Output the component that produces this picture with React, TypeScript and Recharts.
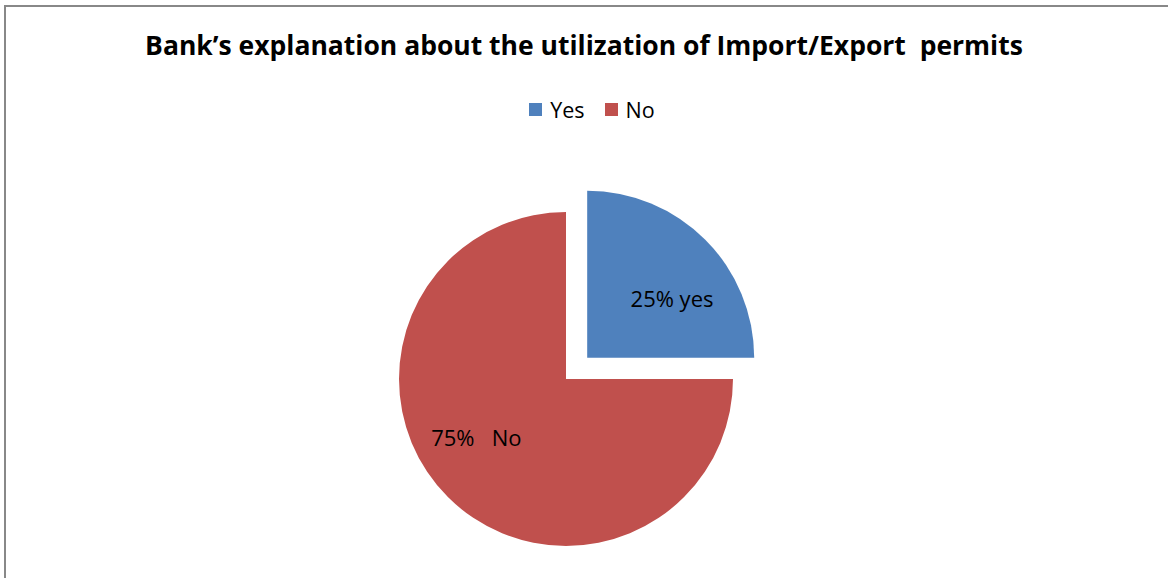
import * as React from 'react';
import { PieChart, Pie, Cell } from 'recharts';

const categories = ['Yes', 'No'];
const shares = [25, 75];
const sliceLabels = ['25% yes', '75%   No'];
const colors = ['#4F81BD', '#C0504D'];

const data = categories.map((name, i) => ({ name, value: shares[i] }));

// where each label sits inside its slice (degrees, fraction of radius)
const labelAngle = [35, 213];
const labelRadius = [0.62, 0.64];

const W = 1168;
const H = 578;
const R = 167;
const CX = 566;
const CY = 379;
const EXPLODE = 30; // pull-out distance of the Yes slice

const FONT = '"Open Sans", Lato, sans-serif';

const renderLabel = (which: number) => (props: any) => {
	const { cx, cy, outerRadius, index } = props;
	if (index !== which) return null;
	const a = (labelAngle[index] * Math.PI) / 180;
	const r = outerRadius * labelRadius[index];
	return (
		<text
			x={cx + r * Math.cos(a)}
			y={cy - r * Math.sin(a)}
			textAnchor="middle"
			dominantBaseline="central"
			fill="#000"
			fontSize={22}
			fontFamily={FONT}
			style={{ whiteSpace: 'pre' }}
		>
			{sliceLabels[index]}
		</text>
	);
};

export default function App() {
	const mid = ((90 + 90 - 360 * (shares[0] / 100)) / 2) * (Math.PI / 180);
	const dx = EXPLODE * Math.cos(mid);
	const dy = -EXPLODE * Math.sin(mid);

	return (
		<div style={{ position: 'absolute', left: 0, top: 0, width: W, height: H, overflow: 'hidden', background: '#fff' }}>
			<div
				style={{
					position: 'absolute',
					left: 4,
					top: 5,
					width: W,
					height: H,
					borderLeft: '2px solid #888',
					borderTop: '2px solid #888'
				}}
			/>
			<div
				style={{
					position: 'absolute',
					left: 0,
					top: 27,
					width: W,
					textAlign: 'center',
					fontFamily: FONT,
					fontWeight: 'bold',
					fontSize: 26.5,
					color: '#000',
					whiteSpace: 'pre'
				}}
			>
				{'Bank\u2019s explanation about the utilization of Import/Export  permits'}
			</div>
			<div
				style={{
					position: 'absolute',
					left: 8,
					top: 95,
					width: W,
					display: 'flex',
					justifyContent: 'center',
					gap: 20,
					fontFamily: FONT,
					fontSize: 21.5,
					color: '#000'
				}}
			>
				{categories.map((c, i) => (
					<span key={c} style={{ display: 'flex', alignItems: 'center' }}>
						<span
							style={{
								width: 13,
								height: 13,
								background: colors[i],
								marginRight: 8,
								display: 'inline-block'
							}}
						/>
						{c}
					</span>
				))}
			</div>
			<div style={{ position: 'absolute', left: 0, top: 0 }}>
				<PieChart width={W} height={H} margin={{ top: 0, right: 0, bottom: 0, left: 0 }}>
					<Pie
						data={data}
						dataKey="value"
						cx={CX}
						cy={CY}
						outerRadius={R}
						startAngle={90}
						endAngle={-270}
						stroke="none"
						label={renderLabel(1)}
						labelLine={false}
						isAnimationActive={false}
					>
						{data.map((d, i) => (
							<Cell key={d.name} fill={i === 1 ? colors[1] : 'none'} />
						))}
					</Pie>
					<Pie
						data={data}
						dataKey="value"
						cx={CX + dx}
						cy={CY + dy}
						outerRadius={R}
						startAngle={90}
						endAngle={-270}
						stroke="none"
						label={renderLabel(0)}
						labelLine={false}
						isAnimationActive={false}
					>
						{data.map((d, i) => (
							<Cell key={d.name} fill={i === 0 ? colors[0] : 'none'} />
						))}
					</Pie>
				</PieChart>
			</div>
		</div>
	);
}
